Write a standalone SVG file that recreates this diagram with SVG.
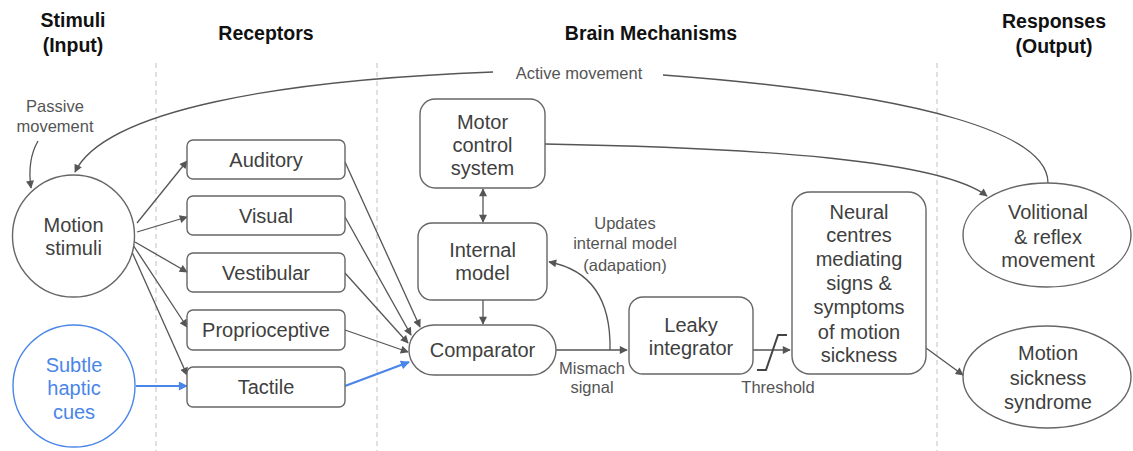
<svg xmlns="http://www.w3.org/2000/svg" width="1133" height="451" viewBox="0 0 1133 451">
<defs>
<marker id="ah" viewBox="0 0 10 10" refX="9" refY="5" markerWidth="10" markerHeight="8" markerUnits="userSpaceOnUse" orient="auto-start-reverse"><path d="M0,0 L10,5 L0,10 z" fill="#555"/></marker>
<marker id="ahb" viewBox="0 0 10 10" refX="9" refY="5" markerWidth="12" markerHeight="9" markerUnits="userSpaceOnUse" orient="auto"><path d="M0,0 L10,5 L0,10 z" fill="#4a86e8"/></marker>
<style>
.hd{font-family:"Liberation Sans",Arial,sans-serif;font-weight:bold;font-size:19.5px;fill:#111;text-anchor:middle}
.t{font-family:"Liberation Sans",Arial,sans-serif;font-size:20px;fill:#404040;text-anchor:middle}
.tb{font-family:"Liberation Sans",Arial,sans-serif;font-size:20px;fill:#4a86e8;text-anchor:middle}
.lb{font-family:"Liberation Sans",Arial,sans-serif;font-size:16.5px;fill:#555;text-anchor:middle}
.n{fill:#fff;stroke:#666;stroke-width:1.4}
.nb{fill:#fff;stroke:#4a86e8;stroke-width:1.4}
.c{fill:none;stroke:#555;stroke-width:1.3}
.cb{fill:none;stroke:#4a86e8;stroke-width:2.2}
.dl{stroke:#ccc;stroke-width:1.2;stroke-dasharray:5 4}
</style>
</defs>
<rect width="1133" height="451" fill="#fff"/>
<g id="headers">
<text class="hd" x="73" y="27">Stimuli</text>
<text class="hd" x="73" y="52">(Input)</text>
<text class="hd" x="266" y="40">Receptors</text>
<text class="hd" x="651" y="40">Brain Mechanisms</text>
<text class="hd" x="1054" y="28">Responses</text>
<text class="hd" x="1054" y="53">(Output)</text>
</g>
<g id="dividers">
<line class="dl" x1="156" y1="63" x2="156" y2="451"/>
<line class="dl" x1="377" y1="63" x2="377" y2="451"/>
<line class="dl" x1="937" y1="63" x2="937" y2="451"/>
</g>
<g id="connectors">
<path class="c" d="M1048,183 C1048,135 930,95 663,75"/>
<path class="c" d="M493,72 C280,80 105,110 75,172" marker-end="url(#ah)"/>
<path class="c" d="M38,141 Q27,160 31,188" marker-end="url(#ah)"/>
<path class="c" d="M545,144 C760,148 940,160 987,196" marker-end="url(#ah)"/>
<line class="c" x1="137" y1="223" x2="187" y2="161" marker-end="url(#ah)"/>
<line class="c" x1="137" y1="232" x2="187" y2="217" marker-end="url(#ah)"/>
<line class="c" x1="135" y1="242" x2="187" y2="272" marker-end="url(#ah)"/>
<line class="c" x1="133" y1="245" x2="187" y2="327" marker-end="url(#ah)"/>
<line class="c" x1="132" y1="252" x2="187" y2="375" marker-end="url(#ah)"/>
<line class="cb" x1="136" y1="386" x2="187" y2="386" marker-end="url(#ahb)"/>
<line class="c" x1="345" y1="162" x2="420" y2="327" marker-end="url(#ah)"/>
<line class="c" x1="345" y1="217" x2="411" y2="335" marker-end="url(#ah)"/>
<line class="c" x1="345" y1="273" x2="408" y2="343" marker-end="url(#ah)"/>
<line class="c" x1="345" y1="330" x2="408" y2="352" marker-end="url(#ah)"/>
<line class="cb" x1="345" y1="386" x2="409" y2="362" marker-end="url(#ahb)"/>
<line class="c" x1="483" y1="189" x2="483" y2="222" marker-start="url(#ah)" marker-end="url(#ah)"/>
<line class="c" x1="483" y1="300" x2="483" y2="324" marker-end="url(#ah)"/>
<line class="c" x1="556" y1="350" x2="627" y2="350" marker-end="url(#ah)"/>
<path class="c" d="M610,350 C611,300 592,270 549,262" marker-end="url(#ah)"/>
<line class="c" x1="753" y1="350" x2="790" y2="350" marker-end="url(#ah)"/>
<path fill="none" stroke="#444" stroke-width="2" d="M757,370 L766,370 L778,335 L787,335"/>
<line class="c" x1="926" y1="348" x2="963" y2="375" marker-end="url(#ah)"/>
</g>
<g id="labels">
<text class="lb" x="579" y="79">Active movement</text>
<text class="lb" x="55" y="112">Passive</text>
<text class="lb" x="55" y="132">movement</text>
<text class="lb" x="625" y="229">Updates</text>
<text class="lb" x="625" y="249">internal model</text>
<text class="lb" x="625" y="271">(adapation)</text>
<text class="lb" x="592" y="374">Mismach</text>
<text class="lb" x="592" y="393">signal</text>
<text class="lb" x="778" y="393">Threshold</text>
</g>
<g id="motion-stimuli">
<circle class="n" cx="73.5" cy="236" r="61"/>
<text class="t" x="73.5" y="232">Motion</text>
<text class="t" x="73.5" y="255">stimuli</text>
</g>
<g id="subtle-haptic">
<circle class="nb" cx="74" cy="386" r="61"/>
<text class="tb" x="74" y="372">Subtle</text>
<text class="tb" x="74" y="395">haptic</text>
<text class="tb" x="74" y="419">cues</text>
</g>
<g id="auditory"><rect class="n" x="187" y="140" width="158" height="39" rx="6"/><text class="t" x="266" y="166.5">Auditory</text></g>
<g id="visual"><rect class="n" x="187" y="196" width="158" height="39" rx="6"/><text class="t" x="266" y="222.5">Visual</text></g>
<g id="vestibular"><rect class="n" x="187" y="253" width="158" height="39" rx="6"/><text class="t" x="266" y="279.5">Vestibular</text></g>
<g id="proprioceptive"><rect class="n" x="187" y="310" width="158" height="40" rx="6"/><text class="t" x="266" y="337">Proprioceptive</text></g>
<g id="tactile"><rect class="n" x="187" y="367" width="158" height="40" rx="6"/><text class="t" x="266" y="394">Tactile</text></g>
<g id="motor-control">
<rect class="n" x="420" y="99" width="125" height="89" rx="15"/>
<text class="t" x="482.5" y="129">Motor</text>
<text class="t" x="482.5" y="152">control</text>
<text class="t" x="482.5" y="175">system</text>
</g>
<g id="internal-model">
<rect class="n" x="418" y="223" width="129" height="77" rx="14"/>
<text class="t" x="482.5" y="257">Internal</text>
<text class="t" x="482.5" y="280">model</text>
</g>
<g id="comparator">
<rect class="n" x="409" y="325" width="147" height="50" rx="25"/>
<text class="t" x="482.5" y="357">Comparator</text>
</g>
<g id="leaky-integrator">
<rect class="n" x="629" y="297" width="124" height="77" rx="14"/>
<text class="t" x="691" y="332">Leaky</text>
<text class="t" x="691" y="355">integrator</text>
</g>
<g id="neural-centres">
<rect class="n" x="792" y="192" width="134" height="182" rx="18"/>
<text class="t" x="859" y="219">Neural</text>
<text class="t" x="859" y="242">centres</text>
<text class="t" x="859" y="266">mediating</text>
<text class="t" x="859" y="290">signs &amp;</text>
<text class="t" x="859" y="314">symptoms</text>
<text class="t" x="859" y="339">of motion</text>
<text class="t" x="859" y="362">sickness</text>
</g>
<g id="volitional">
<ellipse class="n" cx="1047" cy="235" rx="84" ry="52"/>
<text class="t" x="1048" y="219">Volitional</text>
<text class="t" x="1048" y="244">&amp; reflex</text>
<text class="t" x="1048" y="267">movement</text>
</g>
<g id="motion-sickness-syndrome">
<ellipse class="n" cx="1047" cy="377" rx="84" ry="51"/>
<text class="t" x="1048" y="360">Motion</text>
<text class="t" x="1048" y="385">sickness</text>
<text class="t" x="1048" y="409">syndrome</text>
</g>
</svg>
